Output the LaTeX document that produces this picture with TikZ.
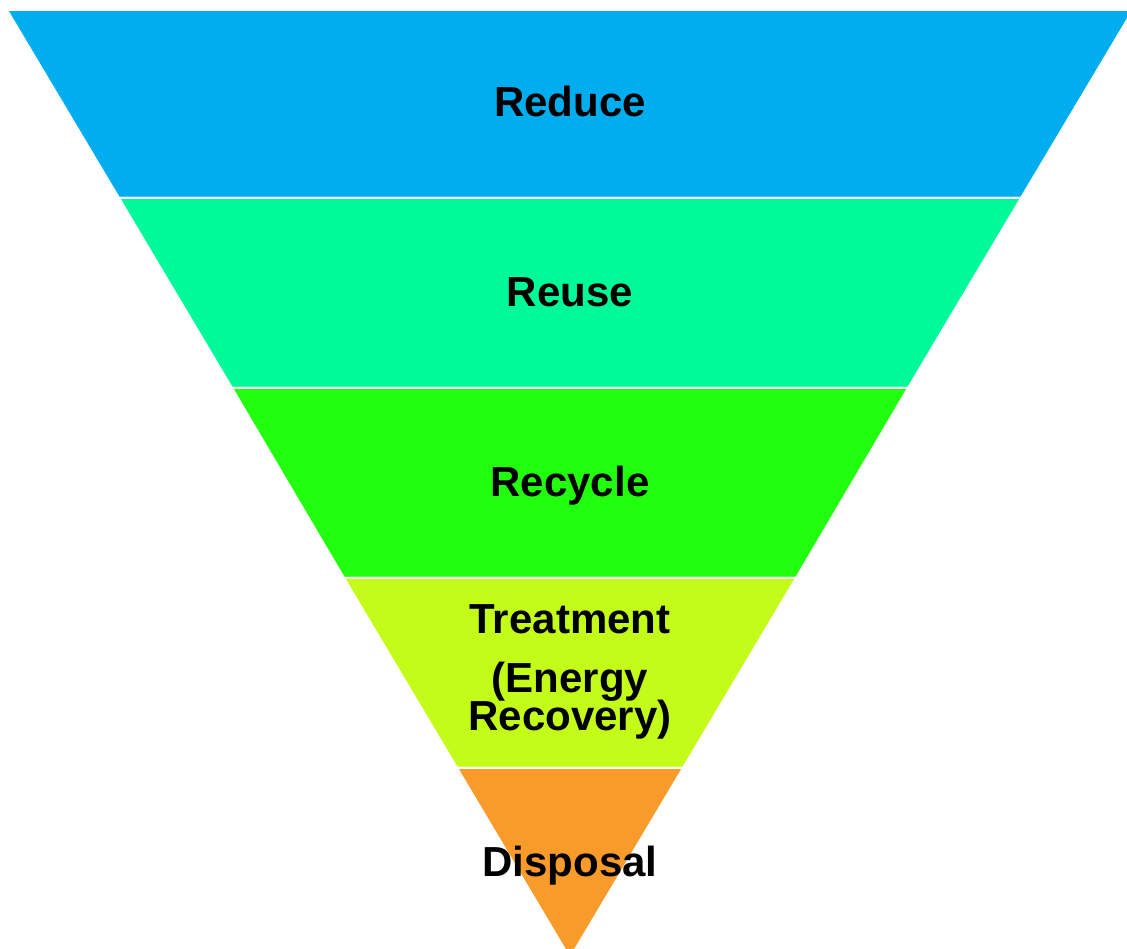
\documentclass[tikz,border=0pt]{standalone}
\usepackage{fontspec}
\setmainfont{Liberation Sans}
\usepackage{xcolor}
\definecolor{reducecol}{HTML}{00AEEF}
\definecolor{reusecol}{HTML}{00FA9A}
\definecolor{recyclecol}{HTML}{22FF0E}
\definecolor{treatcol}{HTML}{C4FC1A}
\definecolor{disposecol}{HTML}{F99B2A}
\begin{document}
\begin{tikzpicture}[x=1pt,y=1pt]
      \tikzstyle{band}=[draw=white,line width=2pt,line join=miter]
      \tikzstyle{label}=[anchor=base,inner sep=0pt,font=\fontsize{42}{42}\selectfont\bfseries]
      \useasboundingbox (0,0) rectangle (1127,949);
      \clip (0,0) rectangle (1127,949);
      \path[band,fill=reducecol] (7,939) -- (1133,939) -- (1021,751) -- (119,751) -- cycle;
      \path[band,fill=reusecol] (119,751) -- (1021,751) -- (908,561) -- (232,561) -- cycle;
      \path[band,fill=recyclecol] (232,561) -- (908,561) -- (796,371) -- (344,371) -- cycle;
      \path[band,fill=treatcol] (344,371) -- (796,371) -- (683,181) -- (457,181) -- cycle;
      \path[band,fill=disposecol] (457,181) -- (683,181) -- (570,-9) -- cycle;
      \node[label] (reduce) at (570,832) {Reduce};
      \node[label] (reuse) at (570,642) {Reuse};
      \node[label] (recycle) at (570,452) {Recycle};
      \node[label] (treatment) at (570,315) {Treatment};
      \node[label] (energy) at (570,256) {(Energy};
      \node[label] (recovery) at (570,218) {Recovery)};
      \node[label] (disposal) at (570,72) {Disposal};
    \end{tikzpicture}
\end{document}
